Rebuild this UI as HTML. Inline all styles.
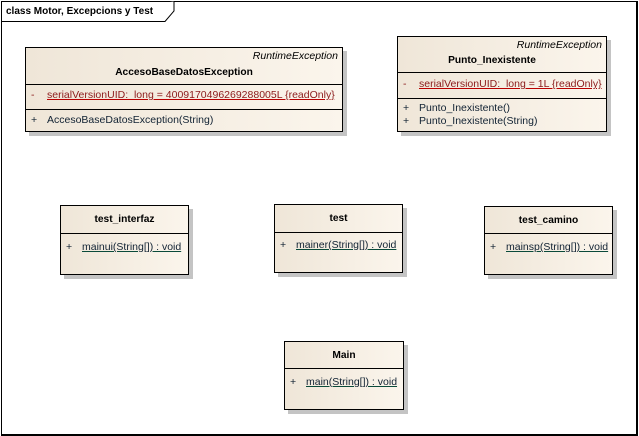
<!DOCTYPE html>
<html><head><meta charset="utf-8"><style>
body{margin:0;width:639px;height:436px;background:#fff;position:relative;overflow:hidden;font-family:"Liberation Sans",sans-serif;font-size:10.5px;color:#000}
.frame{position:absolute;left:1px;top:1px;width:634px;height:432px;border:1px solid #000;border-width:1px 2px 2px 1px}
.tab{position:absolute;left:1px;top:1px}
.box{position:absolute;border:1px solid #000;background:linear-gradient(to right,#efe6d8,#fbf5ec);box-shadow:4px 4px 0 #c4c4c4;box-sizing:border-box}
.st{position:absolute;right:4px;top:2px;font-style:italic}
.nm{position:absolute;left:0;right:0;text-align:center;font-weight:bold;font-size:10.2px}
.ln{position:absolute;border-bottom:1px solid #000;left:0;right:0}
.row{position:absolute;left:5px;white-space:nowrap}
.row span.v{display:inline-block;width:16px}
.red{color:#8b1a1a}
.red u{text-decoration-color:#b00}
.grn u{text-decoration-color:#0a4a3a}
.grn{color:#123}
</style></head><body>
<div class="frame"></div>
<svg class="tab" width="180" height="22"><path d="M0.5,20.5 H164 L173,10 V0.5" fill="#fff" stroke="#000"/><text x="5" y="13" font-family="Liberation Sans" font-size="10" font-weight="bold" fill="#000">class Motor, Excepcions y Test</text></svg>

<div class="box" style="left:25px;top:47px;width:318px;height:85px">
 <div class="st">RuntimeException</div>
 <div class="nm" style="top:19px">AccesoBaseDatosException</div>
 <div class="ln" style="top:36px"></div>
 <div class="row red" style="top:41px"><span class="v">-</span><u>serialVersionUID:&nbsp; long = 4009170496269288005L {readOnly}</u></div>
 <div class="ln" style="top:61px"></div>
 <div class="row grn" style="top:66px"><span class="v">+</span>AccesoBaseDatosException(String)</div>
</div>

<div class="box" style="left:397px;top:36px;width:210px;height:96px">
 <div class="st">RuntimeException</div>
 <div class="nm" style="top:18px;left:-20px">Punto_Inexistente</div>
 <div class="ln" style="top:35px"></div>
 <div class="row red" style="top:41px"><span class="v">-</span><u>serialVersionUID:&nbsp; long = 1L {readOnly}</u></div>
 <div class="ln" style="top:61px"></div>
 <div class="row grn" style="top:65px"><span class="v">+</span>Punto_Inexistente()</div>
 <div class="row grn" style="top:78px"><span class="v">+</span>Punto_Inexistente(String)</div>
</div>

<div class="box" style="left:60px;top:205px;width:129px;height:70px">
 <div class="nm" style="top:8px">test_interfaz</div>
 <div class="ln" style="top:27px"></div>
 <div class="row grn" style="top:35px"><span class="v">+</span><u>mainui(String[]) : void</u></div>
</div>

<div class="box" style="left:274px;top:204px;width:129px;height:69px">
 <div class="nm" style="top:8px">test</div>
 <div class="ln" style="top:27px"></div>
 <div class="row grn" style="top:34px"><span class="v">+</span><u>mainer(String[]) : void</u></div>
</div>

<div class="box" style="left:484px;top:206px;width:129px;height:69px">
 <div class="nm" style="top:8px">test_camino</div>
 <div class="ln" style="top:26px"></div>
 <div class="row grn" style="top:34px"><span class="v">+</span><u>mainsp(String[]) : void</u></div>
</div>

<div class="box" style="left:284px;top:341px;width:120px;height:69px">
 <div class="nm" style="top:8px">Main</div>
 <div class="ln" style="top:26px"></div>
 <div class="row grn" style="top:34px"><span class="v">+</span><u>main(String[]) : void</u></div>
</div>
</body></html>
